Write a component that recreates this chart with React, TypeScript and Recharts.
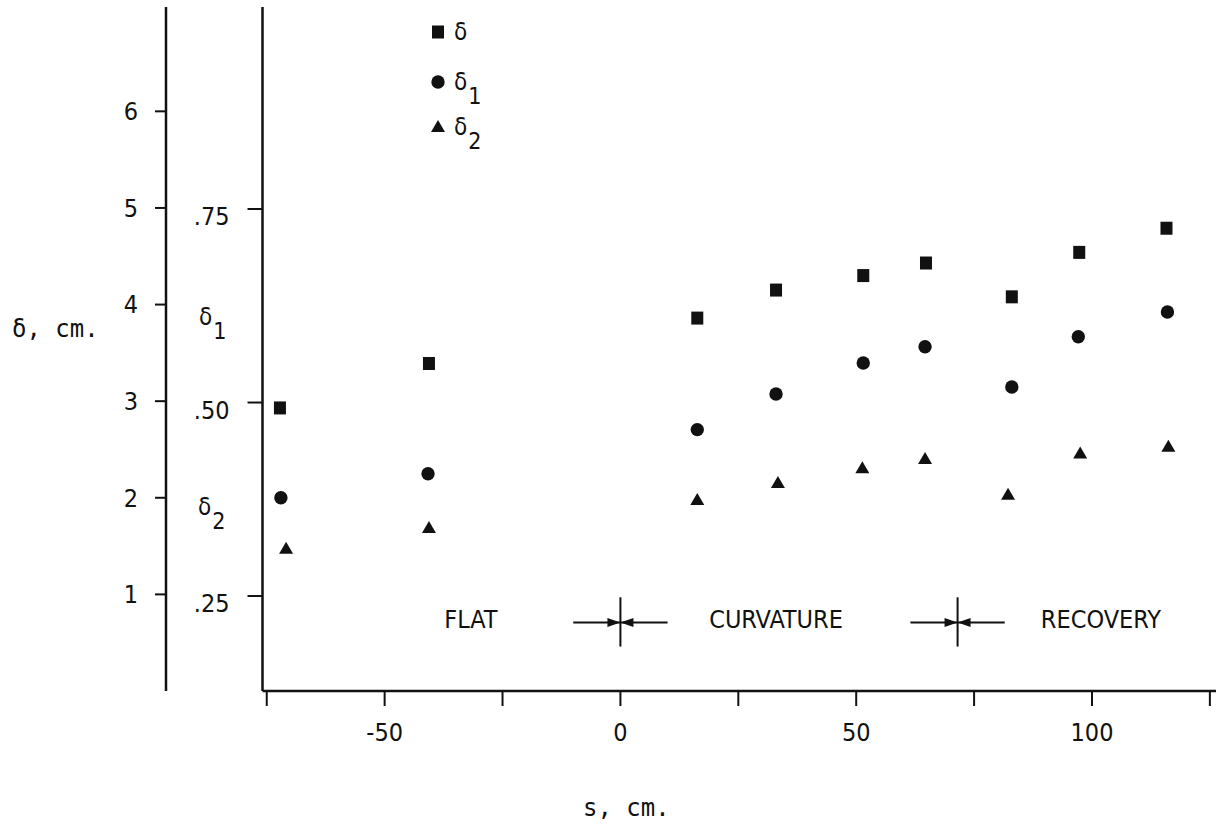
import React from "react";
import {
  Label,
  Legend,
  ReferenceDot,
  ReferenceLine,
  Scatter,
  ScatterChart,
  XAxis,
  YAxis,
} from "recharts";

// s, cm. of each plotted symbol (the three symbols sit a hair apart)
const sDelta = [-72.2, -40.6, 16.3, 33.0, 51.5, 64.8, 83.0, 97.3, 115.8];
const sDelta1 = [-72.0, -40.8, 16.3, 33.0, 51.5, 64.6, 83.0, 97.1, 116.0];
const sDelta2 = [-70.9, -40.6, 16.3, 33.4, 51.3, 64.6, 82.2, 97.5, 116.2];

// delta in cm (outer scale); delta1 / delta2 on the inner scale
const deltaVals = [2.93, 3.39, 3.86, 4.15, 4.3, 4.43, 4.08, 4.54, 4.79];
const delta1Vals = [0.377, 0.408, 0.465, 0.511, 0.551, 0.572, 0.52, 0.585, 0.617];
const delta2Vals = [0.311, 0.338, 0.374, 0.396, 0.415, 0.427, 0.381, 0.434, 0.443];

const seriesNames = ["δ", "δ1", "δ2"];

const sTicks = [-75, -50, -25, 0, 25, 50, 75, 100, 125];
const sLabelled = [-50, 0, 50, 100];
const deltaTicks = [1, 2, 3, 4, 5, 6];
const innerTicks = [0.25, 0.5, 0.75];
const innerTickLabels = [".25", ".50", ".75"];

// region boundaries along s, and the region names between them
const boundaries = [0, 71.5];
const regionNames = ["FLAT", "CURVATURE", "RECOVERY"];
const regionCenters = [-31.7, 33, 101.9];

const SANS = "'DejaVu Sans Condensed', 'DejaVu Sans', sans-serif";
const MONO = "'DejaVu Sans Mono', 'Liberation Mono', monospace";
const INK = "#111";

type Kind = "square" | "circle" | "triangle";
const kindOf: Record<string, Kind> = { "δ": "square", "δ1": "circle", "δ2": "triangle" };

const toPoints = (s: number[], v: number[]) => s.map((x, i) => ({ s: x, v: v[i] }));
const deltaData = toPoints(sDelta, deltaVals);
const delta1Data = toPoints(sDelta1, delta1Vals);
const delta2Data = toPoints(sDelta2, delta2Vals);

function Mark({ kind, cx, cy }: { kind: Kind; cx: number; cy: number }) {
  if (kind === "square") return <rect x={cx - 6} y={cy - 6.5} width={12} height={13} fill={INK} />;
  if (kind === "circle") return <circle cx={cx} cy={cy} r={6.7} fill={INK} />;
  return <polygon points={`${cx},${cy - 7} ${cx + 7},${cy + 5} ${cx - 7},${cy + 5}`} fill={INK} />;
}

function Arrow(p: any) {
  const { x1, y1, x2, y2 } = p;
  const dir = Math.sign(x2 - x1);
  return (
    <g>
      <line x1={x1} y1={y1} x2={x2} y2={y2} stroke={INK} strokeWidth={2} />
      <polygon
        points={`${x2},${y2} ${x2 - dir * 13},${y2 - 4.5} ${x2 - dir * 13},${y2 + 4.5}`}
        fill={INK}
      />
    </g>
  );
}

function InnerTick(props: any) {
  const { x, y, payload } = props;
  const label = innerTickLabels[innerTicks.indexOf(payload.value)];
  return (
    <text x={x} y={y + 16} textAnchor="end" fontSize={25} fontFamily={SANS} fill={INK}>
      {label}
    </text>
  );
}

function Sub({ x, y, base, sub }: { x: number; y: number; base: string; sub: string }) {
  return (
    <text x={x} y={y} fontSize={24} fontFamily={SANS} fill={INK}>
      {base}
      {sub && (
        <tspan dx={1} dy={14} fontSize={23}>
          {sub}
        </tspan>
      )}
    </text>
  );
}

const renderLegend = (props: any) => {
  const items = props.payload ?? [];
  const rowY = [20, 70, 115];
  return (
    <svg width={80} height={165} style={{ overflow: "visible" }}>
      {items.map((item: any, i: number) => {
        const name = String(item.value);
        return (
          <g key={name}>
            <Mark kind={kindOf[name]} cx={10} cy={rowY[i]} />
            <Sub x={26} y={rowY[i] + 8} base={name[0]} sub={name.slice(1)} />
          </g>
        );
      })}
    </svg>
  );
};

export default function App() {
  return (
    <div style={{ position: "absolute", left: 0, top: 0, width: 1218, height: 827, background: "#fff" }}>
      <ScatterChart width={1218} height={827} margin={{ top: 7, right: 2, bottom: 0, left: 0 }}>
        <XAxis
          type="number"
          dataKey="s"
          domain={[-75.9, 126.3]}
          allowDataOverflow
          ticks={sTicks}
          interval={0}
          tickFormatter={(v: number) => (sLabelled.includes(v) ? String(v) : "")}
          height={136}
          tickSize={15}
          tickMargin={17}
          axisLine={{ stroke: INK, strokeWidth: 2.5 }}
          tickLine={{ stroke: INK, strokeWidth: 2 }}
          tick={{ fill: INK, fontSize: 25, fontFamily: SANS }}
        >
          <Label
            content={() => (
              <text x={583} y={816} fontSize={24} fontFamily={MONO} fill={INK}>
                s, cm.
              </text>
            )}
          />
        </XAxis>
        <YAxis
          yAxisId="inner"
          type="number"
          dataKey="v"
          domain={[0.1273, 1.011]}
          allowDataOverflow
          ticks={innerTicks}
          interval={0}
          width={96.5}
          tickSize={15}
          tickMargin={18}
          axisLine={{ stroke: INK, strokeWidth: 2.5 }}
          tickLine={{ stroke: INK, strokeWidth: 2 }}
          tick={InnerTick}
        >
          <Label
            content={() => (
              <g>
                <Sub x={199} y={325} base="δ" sub="1" />
                <Sub x={198} y={515} base="δ" sub="2" />
              </g>
            )}
          />
        </YAxis>
        <YAxis
          yAxisId="outer"
          type="number"
          dataKey="v"
          domain={[0, 7.08]}
          allowDataOverflow
          ticks={deltaTicks}
          interval={0}
          width={166}
          tickSize={11}
          tickMargin={17}
          axisLine={{ stroke: INK, strokeWidth: 2.5 }}
          tickLine={{ stroke: INK, strokeWidth: 2 }}
          tick={{ fill: INK, fontSize: 25, fontFamily: SANS }}
        >
          <Label
            content={() => (
              <text x={12} y={337} fontSize={24} fontFamily={MONO} fill={INK}>
                δ, cm.
              </text>
            )}
          />
        </YAxis>
        <Legend
          layout="horizontal"
          verticalAlign="middle"
          align="center"
          wrapperStyle={{ position: "absolute", left: 428, top: 12, width: 80, height: 165 }}
          content={renderLegend}
        />

        {boundaries.map((b) => (
          <React.Fragment key={b}>
            <ReferenceLine
              yAxisId="outer"
              segment={[{ x: b, y: 0.46 }, { x: b, y: 0.97 }]}
              stroke={INK}
              strokeWidth={2}
            />
            <ReferenceLine
              yAxisId="outer"
              segment={[{ x: b - 10, y: 0.71 }, { x: b, y: 0.71 }]}
              shape={Arrow}
            />
            <ReferenceLine
              yAxisId="outer"
              segment={[{ x: b + 10, y: 0.71 }, { x: b, y: 0.71 }]}
              shape={Arrow}
            />
          </React.Fragment>
        ))}
        {regionNames.map((name, i) => (
          <ReferenceDot
            key={name}
            yAxisId="outer"
            x={regionCenters[i]}
            y={0.75}
            r={0}
            shape={(p: any) => (
              <text x={p.cx} y={p.cy + 9} textAnchor="middle" fontSize={25} fontFamily={SANS} fill={INK}>
                {name}
              </text>
            )}
          />
        ))}

        <Scatter
          name={seriesNames[0]}
          data={deltaData}
          yAxisId="outer"
          fill={INK}
          isAnimationActive={false}
          shape={(p: any) => <Mark kind="square" cx={p.cx} cy={p.cy} />}
        />
        <Scatter
          name={seriesNames[1]}
          data={delta1Data}
          yAxisId="inner"
          fill={INK}
          isAnimationActive={false}
          shape={(p: any) => <Mark kind="circle" cx={p.cx} cy={p.cy} />}
        />
        <Scatter
          name={seriesNames[2]}
          data={delta2Data}
          yAxisId="inner"
          fill={INK}
          isAnimationActive={false}
          shape={(p: any) => <Mark kind="triangle" cx={p.cx} cy={p.cy} />}
        />
      </ScatterChart>
    </div>
  );
}
